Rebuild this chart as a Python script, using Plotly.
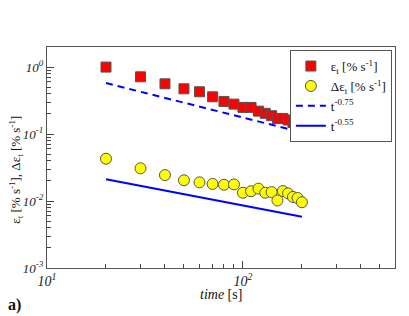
import plotly.graph_objects as go

# ---- data ----
time_s = [20, 30, 40, 50, 60, 70, 80, 90, 100, 110, 120, 130, 140, 150, 160, 170, 180, 190, 200]
eps_rate = [1.0, 0.716, 0.563, 0.474, 0.428, 0.36, 0.307, 0.28, 0.25, 0.25, 0.22, 0.204,
            0.188, 0.171, 0.171, 0.162, 0.149, 0.139, 0.135]
delta_eps_rate = [0.0428, 0.0308, 0.0244, 0.0204, 0.019, 0.018, 0.0175, 0.0177, 0.0133, 0.014,
                  0.0153, 0.0133, 0.0136, 0.0102, 0.0141, 0.013, 0.0115, 0.0111, 0.0096]
fit_t = [20, 200]
fit_075 = [0.577, 0.106]
fit_055 = [0.0211, 0.00583]

x_tickvals = [10, 100]
x_ticktext = ["<i>10<sup>1</sup></i>", "<i>10<sup>2</sup></i>"]
y_tickvals = [0.001, 0.01, 0.1, 1]
y_ticktext = ["<i>10<sup>-3</sup></i>", "<i>10<sup>-2</sup></i>", "<i>10<sup>-1</sup></i>", "<i>10<sup>0</sup></i>"]

FONT = "Liberation Serif"
x_minor = [m * d for d in (10, 100) for m in range(2, 10)]
y_minor = [m * d for d in (0.001, 0.01, 0.1, 1) for m in range(2, 10)]

fig = go.Figure()
fig.add_trace(go.Scatter(
    x=time_s, y=eps_rate, mode="markers", name="ε<sub>t</sub> [% s<sup>-1</sup>]",
    marker=dict(symbol="square", size=10, color="#ff0000", line=dict(color="#555555", width=1))))
fig.add_trace(go.Scatter(
    x=time_s, y=delta_eps_rate, mode="markers", name="Δε<sub>t</sub> [% s<sup>-1</sup>]",
    marker=dict(symbol="circle", size=11, color="#ffff00", line=dict(color="#555555", width=1))))
fig.add_trace(go.Scatter(
    x=fit_t, y=fit_075, mode="lines", name="t<sup>-0.75</sup>",
    line=dict(color="#0000ff", width=2, dash="7px,5px")))
fig.add_trace(go.Scatter(
    x=fit_t, y=fit_055, mode="lines", name="t<sup>-0.55</sup>",
    line=dict(color="#0000ff", width=2)))

axis_common = dict(
    showgrid=False, zeroline=False, showline=True, linecolor="#555555", linewidth=1,
    mirror=True, ticks="inside", ticklen=7, tickcolor="#444444")

fig.update_xaxes(type="log", range=[1, 2.776], tickvals=x_tickvals, ticktext=x_ticktext,
                 tickfont=dict(family=FONT, size=14, color="#222222"),
                 minor=dict(tickvals=x_minor, ticks="inside", ticklen=4, tickcolor="#444444"),
                 **axis_common)
fig.update_yaxes(type="log", range=[-3, 0.3], tickvals=y_tickvals, ticktext=y_ticktext,
                 tickfont=dict(family=FONT, size=13, color="#222222"),
                 minor=dict(tickvals=y_minor, ticks="inside", ticklen=4, tickcolor="#444444"),
                 **axis_common)

fig.update_layout(
    width=401, height=308,
    margin=dict(l=39, r=14, t=39, b=48),
    paper_bgcolor="white", plot_bgcolor="white",
    font=dict(family=FONT, size=13, color="#111111"),
    showlegend=True,
    legend=dict(x=0.991, y=0.986, xanchor="right", yanchor="top",
                bgcolor="white", bordercolor="#555555", borderwidth=1,
                font=dict(family=FONT, size=13, color="#111111"),
                itemwidth=30, tracegroupgap=0),
    annotations=[
        dict(text="ε<sub>t</sub> [% s<sup>-1</sup>], Δε<sub>t</sub> [% s<sup>-1</sup>]",
             xref="paper", yref="paper", x=-0.09, y=0.443, textangle=-90,
             xanchor="center", yanchor="middle", showarrow=False,
             font=dict(family=FONT, size=13, color="#111111")),
        dict(text="<i>time</i> [s]", xref="paper", yref="paper", x=0.5, y=-0.122,
             xanchor="center", yanchor="middle", showarrow=False,
             font=dict(family=FONT, size=14, color="#111111")),
        dict(text="<b>a)</b>", xref="paper", yref="paper", x=-0.092, y=-0.167,
             xanchor="center", yanchor="middle", showarrow=False,
             font=dict(family=FONT, size=16, color="#111111")),
    ],
)

fig.write_html("out.html")
